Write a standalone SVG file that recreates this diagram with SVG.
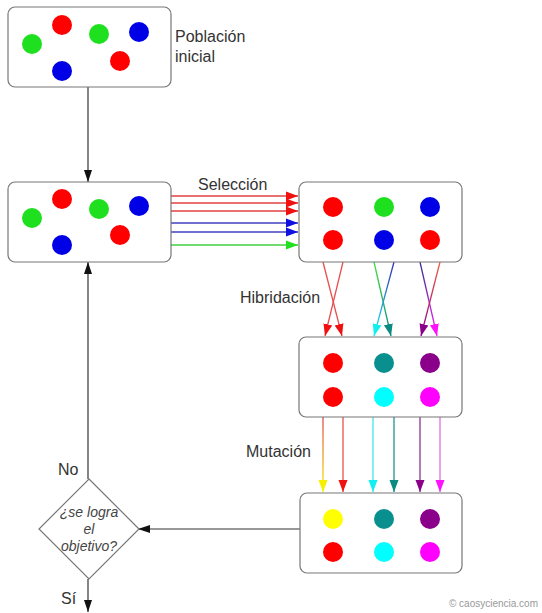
<svg xmlns="http://www.w3.org/2000/svg" width="542" height="613" viewBox="0 0 542 613">
<style>
.box{fill:#fff;stroke:#777;stroke-width:1.2}
.lbl{font-family:"Liberation Sans",Arial,sans-serif;font-size:16px;fill:#333}
.q{font-family:"Liberation Sans",Arial,sans-serif;font-size:14px;font-style:italic;fill:#444;text-anchor:middle}
.ln{fill:none;stroke-width:1.3}
.k{stroke:#333;stroke-width:1.2;fill:none}
.r{fill:#f00}.g{fill:#1fe01f}.b{fill:#0000e6}.t{fill:#0a8f8f}.p{fill:#8b008b}.c{fill:#00ffff}.m{fill:#ff00ff}.y{fill:#ffff00}
</style>
<defs>
<marker id="aK" viewBox="0 0 12 10" refX="12" refY="5" markerWidth="12" markerHeight="10" markerUnits="userSpaceOnUse" orient="auto"><path d="M0,1 L12,5 L0,9 Z" fill="#111"/></marker>
<marker id="aR" viewBox="0 0 12 10" refX="12" refY="5" markerWidth="12" markerHeight="10" markerUnits="userSpaceOnUse" orient="auto"><path d="M0,0.5 L12,5 L0,9.5 Z" fill="#f01010"/></marker>
<marker id="aB" viewBox="0 0 12 10" refX="12" refY="5" markerWidth="12" markerHeight="10" markerUnits="userSpaceOnUse" orient="auto"><path d="M0,0.5 L12,5 L0,9.5 Z" fill="#1010e0"/></marker>
<marker id="aG" viewBox="0 0 12 10" refX="12" refY="5" markerWidth="12" markerHeight="10" markerUnits="userSpaceOnUse" orient="auto"><path d="M0,0.5 L12,5 L0,9.5 Z" fill="#20e020"/></marker>
<marker id="aC" viewBox="0 0 12 10" refX="12" refY="5" markerWidth="12" markerHeight="10" markerUnits="userSpaceOnUse" orient="auto"><path d="M0,0.5 L12,5 L0,9.5 Z" fill="#10f0f0"/></marker>
<marker id="aT" viewBox="0 0 12 10" refX="12" refY="5" markerWidth="12" markerHeight="10" markerUnits="userSpaceOnUse" orient="auto"><path d="M0,0.5 L12,5 L0,9.5 Z" fill="#0a8a80"/></marker>
<marker id="aP" viewBox="0 0 12 10" refX="12" refY="5" markerWidth="12" markerHeight="10" markerUnits="userSpaceOnUse" orient="auto"><path d="M0,0.5 L12,5 L0,9.5 Z" fill="#8b008b"/></marker>
<marker id="aM" viewBox="0 0 12 10" refX="12" refY="5" markerWidth="12" markerHeight="10" markerUnits="userSpaceOnUse" orient="auto"><path d="M0,0.5 L12,5 L0,9.5 Z" fill="#ff10ff"/></marker>
<marker id="aY" viewBox="0 0 12 10" refX="12" refY="5" markerWidth="12" markerHeight="10" markerUnits="userSpaceOnUse" orient="auto"><path d="M0,0.5 L12,5 L0,9.5 Z" fill="#f5f000"/></marker>
<linearGradient id="gGT" gradientUnits="userSpaceOnUse" x1="0" y1="262" x2="0" y2="336"><stop offset="0" stop-color="#40e040"/><stop offset="1" stop-color="#108a80"/></linearGradient>
<linearGradient id="gBC" gradientUnits="userSpaceOnUse" x1="0" y1="262" x2="0" y2="336"><stop offset="0" stop-color="#3030b0"/><stop offset="1" stop-color="#20f0f0"/></linearGradient>
<linearGradient id="gBM" gradientUnits="userSpaceOnUse" x1="0" y1="262" x2="0" y2="336"><stop offset="0" stop-color="#303090"/><stop offset="1" stop-color="#ff20ff"/></linearGradient>
<linearGradient id="gRP" gradientUnits="userSpaceOnUse" x1="0" y1="262" x2="0" y2="336"><stop offset="0" stop-color="#f06040"/><stop offset="1" stop-color="#8b008b"/></linearGradient>
<linearGradient id="gRY" gradientUnits="userSpaceOnUse" x1="0" y1="418" x2="0" y2="492"><stop offset="0" stop-color="#e05050"/><stop offset="1" stop-color="#f5f000"/></linearGradient>
</defs>

<g id="connectors">
<line class="k" x1="88" y1="87" x2="88" y2="182" marker-end="url(#aK)"/>
<line class="k" x1="88" y1="479" x2="88" y2="262" marker-end="url(#aK)"/>
<line class="k" x1="300" y1="529" x2="138" y2="529" marker-end="url(#aK)"/>
<line class="k" x1="88" y1="579" x2="88" y2="612" marker-end="url(#aK)"/>
<g id="seleccion">
<line class="ln" stroke="#e04040" x1="171" y1="196" x2="298" y2="196" marker-end="url(#aR)"/>
<line class="ln" stroke="#e04040" x1="171" y1="203" x2="298" y2="203" marker-end="url(#aR)"/>
<line class="ln" stroke="#e04040" x1="171" y1="211" x2="298" y2="211" marker-end="url(#aR)"/>
<line class="ln" stroke="#4040c0" x1="171" y1="223" x2="298" y2="223" marker-end="url(#aB)"/>
<line class="ln" stroke="#4040c0" x1="171" y1="232" x2="298" y2="232" marker-end="url(#aB)"/>
<line class="ln" stroke="#40d040" x1="171" y1="245" x2="298" y2="245" marker-end="url(#aG)"/>
</g>
<g id="hibridacion">
<line class="ln" stroke="#e85050" x1="323" y1="262" x2="342" y2="336" marker-end="url(#aR)"/>
<line class="ln" stroke="#e85050" x1="343" y1="262" x2="325" y2="336" marker-end="url(#aR)"/>
<line class="ln" stroke="url(#gGT)" x1="374" y1="262" x2="391" y2="336" marker-end="url(#aT)"/>
<line class="ln" stroke="url(#gBC)" x1="394" y1="262" x2="374" y2="336" marker-end="url(#aC)"/>
<line class="ln" stroke="url(#gBM)" x1="420" y1="262" x2="437" y2="336" marker-end="url(#aM)"/>
<line class="ln" stroke="url(#gRP)" x1="440" y1="262" x2="421" y2="336" marker-end="url(#aP)"/>
</g>
<g id="mutacion">
<line class="ln" stroke="url(#gRY)" x1="323" y1="417" x2="323" y2="492" marker-end="url(#aY)"/>
<line class="ln" stroke="#e85050" x1="343" y1="417" x2="343" y2="492" marker-end="url(#aR)"/>
<line class="ln" stroke="#40e8e8" x1="373" y1="417" x2="373" y2="492" marker-end="url(#aC)"/>
<line class="ln" stroke="#209590" x1="394" y1="417" x2="394" y2="492" marker-end="url(#aT)"/>
<line class="ln" stroke="#903090" x1="420" y1="417" x2="420" y2="492" marker-end="url(#aP)"/>
<line class="ln" stroke="#e070e0" x1="440" y1="417" x2="440" y2="492" marker-end="url(#aM)"/>
</g>
</g>

<g id="poblacion">
<rect class="box" x="8" y="7" width="163" height="80" rx="7"/>
<circle class="r" cx="62" cy="25" r="10"/>
<circle class="g" cx="32" cy="44" r="10"/>
<circle class="g" cx="99" cy="34" r="10"/>
<circle class="b" cx="139" cy="32" r="10"/>
<circle class="r" cx="120" cy="61" r="10"/>
<circle class="b" cx="62" cy="71" r="10"/>
</g>
<text class="lbl" x="175" y="42">Población</text>
<text class="lbl" x="175" y="62">inicial</text>

<g id="poblacion2">
<rect class="box" x="8" y="182" width="163" height="80" rx="7"/>
<circle class="r" cx="62" cy="199" r="10"/>
<circle class="g" cx="32" cy="218" r="10"/>
<circle class="g" cx="99" cy="209" r="10"/>
<circle class="b" cx="139" cy="206" r="10"/>
<circle class="r" cx="120" cy="235" r="10"/>
<circle class="b" cx="62" cy="245" r="10"/>
</g>
<text class="lbl" x="198" y="190">Selección</text>

<g id="seleccionados">
<rect class="box" x="299" y="182" width="163" height="80" rx="7"/>
<circle class="r" cx="333" cy="207" r="10"/>
<circle class="g" cx="384" cy="207" r="10"/>
<circle class="b" cx="430" cy="207" r="10"/>
<circle class="r" cx="333" cy="240" r="10"/>
<circle class="b" cx="384" cy="240" r="10"/>
<circle class="r" cx="430" cy="240" r="10"/>
</g>
<text class="lbl" x="240" y="303">Hibridación</text>

<g id="hibridos">
<rect class="box" x="299" y="337" width="163" height="80" rx="7"/>
<circle class="r" cx="333" cy="363" r="10"/>
<circle class="t" cx="384" cy="363" r="10"/>
<circle class="p" cx="430" cy="363" r="10"/>
<circle class="r" cx="333" cy="397" r="10"/>
<circle class="c" cx="384" cy="397" r="10"/>
<circle class="m" cx="430" cy="397" r="10"/>
</g>
<text class="lbl" x="246" y="457">Mutación</text>

<g id="mutados">
<rect class="box" x="300" y="493" width="162" height="80" rx="7"/>
<circle class="y" cx="333" cy="519" r="10"/>
<circle class="t" cx="384" cy="519" r="10"/>
<circle class="p" cx="430" cy="519" r="10"/>
<circle class="r" cx="333" cy="552" r="10"/>
<circle class="c" cx="384" cy="552" r="10"/>
<circle class="m" cx="430" cy="552" r="10"/>
</g>

<g id="decision">
<polygon points="89,479 139,529 89,579 39,529" fill="#fff" stroke="#777" stroke-width="1.2"/>
<text class="q" x="89" y="517">¿se logra</text>
<text class="q" x="89" y="534">el</text>
<text class="q" x="89" y="551">objetivo?</text>
</g>
<text class="lbl" x="58" y="475">No</text>
<text class="lbl" x="61" y="604">Sí</text>
<text x="538" y="607" text-anchor="end" font-family="Liberation Sans,Arial,sans-serif" font-size="10" fill="#999">© caosyciencia.com</text>
</svg>
